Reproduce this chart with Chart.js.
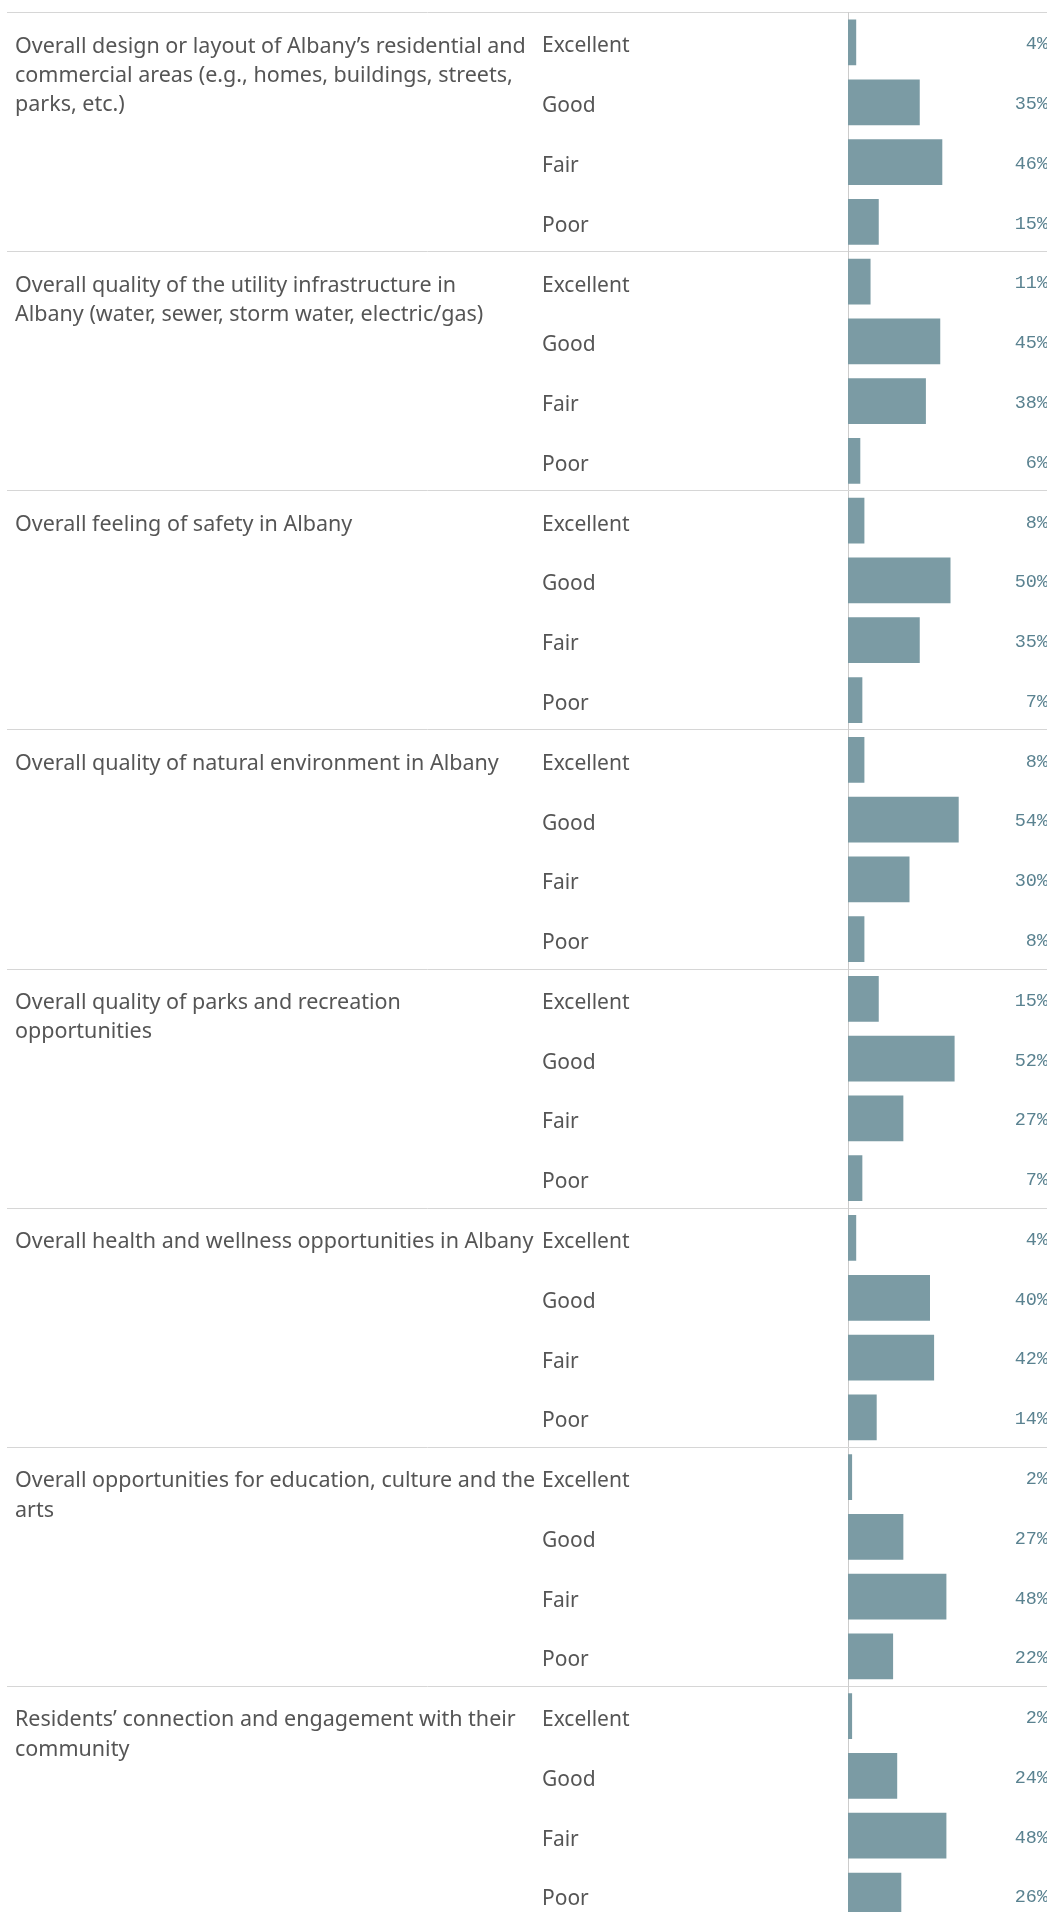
<!DOCTYPE html>
<html lang="en">
  <head>
    <meta charset="UTF-8" />
    <title>Albany Community Ratings</title>
    <script src="https://cdn.jsdelivr.net/npm/chart.js"></script>
    <style>
      html,
      body {
        margin: 0;
        padding: 0;
        background: #ffffff;
        overflow: hidden;
      }

      .frame {
        width: 1047px;
        height: 1912px;
        overflow: hidden;
      }

      #ratingsChart {
        display: block;
      }
    </style>
  </head>
  <body>
    <div class="frame">
      <!-- taller than the frame: the last group runs past the bottom edge -->
      <canvas id="ratingsChart" width="1053" height="1938"></canvas>
    </div>
    <script>
      // Questions, each already split into the lines shown in the picture
      const questions = [
        ["Overall design or layout of Albany’s residential and", "commercial areas (e.g., homes, buildings, streets,", "parks, etc.)"],
        ["Overall quality of the utility infrastructure in", "Albany (water, sewer, storm water, electric/gas)"],
        ["Overall feeling of safety in Albany"],
        ["Overall quality of natural environment in Albany"],
        ["Overall quality of parks and recreation", "opportunities"],
        ["Overall health and wellness opportunities in Albany"],
        ["Overall opportunities for education, culture and the", "arts"],
        ["Residents’ connection and engagement with their", "community"],
      ];
      const ratings = ["Excellent", "Good", "Fair", "Poor"];

      // Percent of answers per rating, one value per question
      const excellent = [4, 11, 8, 8, 15, 4, 2, 2];
      const good = [35, 45, 50, 54, 52, 40, 27, 24];
      const fair = [46, 38, 35, 30, 27, 42, 48, 48];
      const poor = [15, 6, 7, 8, 7, 14, 22, 26];

      const byRating = [excellent, good, fair, poor];
      const labels = [];
      const values = [];
      questions.forEach((q, qi) => {
        ratings.forEach((r, ri) => {
          labels.push(r);
          values.push(byRating[ri][qi]);
        });
      });

      const textColor = "#555555";
      const textFont = '"Noto Sans", sans-serif';

      // draws the question text and the percent labels
      const surveyText = {
        id: "surveyText",
        afterDatasetsDraw(chart) {
          const ctx = chart.ctx;
          const bars = chart.getDatasetMeta(0).data;
          const area = chart.chartArea;
          ctx.save();
          ctx.textBaseline = "middle";

          ctx.font = '18.5px "Liberation Mono", monospace';
          ctx.fillStyle = "#5a8290";
          ctx.textAlign = "right";
          bars.forEach((bar, i) => {
            ctx.fillText(values[i] + "%", area.right - 5, bar.y + 2);
          });

          ctx.font = "21.5px " + textFont;
          ctx.fillStyle = textColor;
          ctx.textAlign = "left";
          questions.forEach((lines, qi) => {
            const y0 = bars[qi * ratings.length].y + 4;
            lines.forEach((line, k) => {
              ctx.fillText(line, 15, y0 + k * 29.3);
            });
          });
          ctx.restore();
        },
      };

      new Chart(document.getElementById("ratingsChart"), {
        type: "bar",
        data: {
          labels: labels,
          datasets: [
            {
              data: values,
              backgroundColor: "#7b9ba4",
              borderWidth: 0,
              barPercentage: 0.765,
              categoryPercentage: 1,
            },
          ],
        },
        options: {
          responsive: false,
          animation: false,
          indexAxis: "y",
          layout: {
            padding: { left: 542, top: 12, right: 0, bottom: 0 },
          },
          plugins: {
            legend: { display: false },
            tooltip: { enabled: false },
          },
          scales: {
            x: {
              display: false,
              min: 0,
              max: 100,
            },
            y: {
              position: "left",
              afterFit: (scale) => {
                scale.width = 306;
              },
              grid: {
                color: (c) => (c.index % ratings.length === 0 ? "#d6d6d6" : "rgba(0,0,0,0)"),
                lineWidth: 1,
                tickLength: 841,
              },
              border: { display: true, color: "#cccccc", width: 1 },
              ticks: {
                autoSkip: false,
                crossAlign: "far",
                padding: 0,
                labelOffset: 4,
                color: textColor,
                font: { family: "Noto Sans", size: 21 },
              },
            },
          },
        },
        plugins: [surveyText],
      });
    </script>
  </body>
</html>
